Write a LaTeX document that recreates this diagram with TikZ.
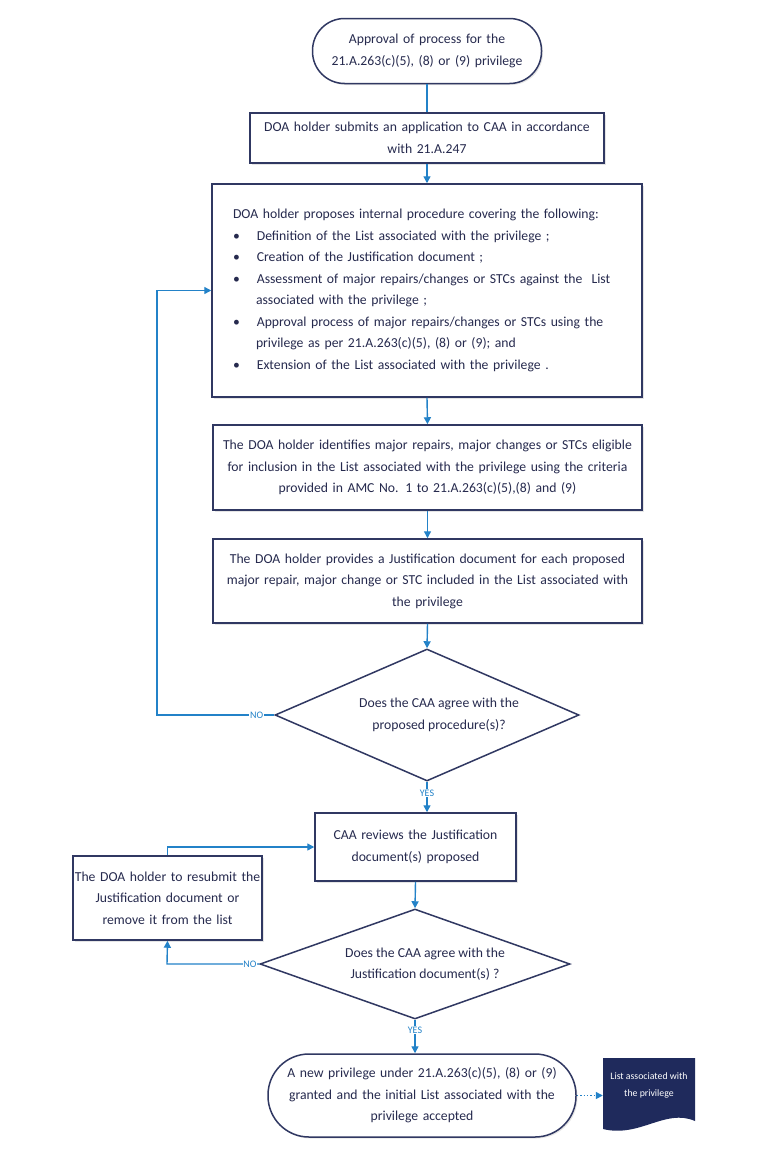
\documentclass[tikz,border=0pt]{standalone}
\usepackage{fontspec}
\setmainfont{Carlito}
\usetikzlibrary{arrows.meta,shapes.geometric,shadows,calc}
\definecolor{edgec}{RGB}{48,56,98}
\definecolor{flowc}{RGB}{35,130,200}
\definecolor{txtc}{RGB}{38,42,78}
\definecolor{docc}{RGB}{31,42,92}
\newcommand\fsz{\fontsize{13.7}{21.5}\selectfont}
\newcommand\lsz{\fontsize{10}{11}\selectfont}
\newcommand\dsz{\fontsize{9.8}{17}\selectfont}
\tikzset{
  box/.style={draw=edgec, line width=1.5pt, fill=white, text=txtc, align=center,
    inner sep=0pt, font=\fsz,
    drop shadow={shadow xshift=1.5pt, shadow yshift=-1.5pt, opacity=0.2}},
  term/.style={box},
  dec/.style={diamond, draw=edgec, line width=1.5pt, fill=white, inner sep=0pt},
  dtext/.style={font=\fsz, text=txtc, align=center},
  flow/.style={draw=flowc, line width=1.4pt, -{Triangle[width=7pt,length=7pt]}},
  plain/.style={draw=flowc, line width=1.4pt},
  lab/.style={text=flowc, font=\lsz, fill=white, inner sep=0.8pt},
  doctext/.style={text=white, font=\dsz, align=center, inner sep=0pt}
}
\begin{document}
\begin{tikzpicture}[x=1pt,y=-1pt]
\useasboundingbox[fill=white] (0,0) rectangle (769,1159);

\node[term, rounded corners=32pt, minimum width=229pt, minimum height=65pt, text width=220pt]
  (start) at (427,51) {Approval of process for the\\21.A.263(c)(5), (8) or (9) privilege};

\node[box, minimum width=354pt, minimum height=50pt, text width=345pt]
  (b2) at (427,138) {DOA holder submits an application to CAA in accordance\\with 21.A.247};

\node[box, minimum width=430pt, minimum height=213pt, text width=388pt, align=left]
  (b3) at (427,290.5) {%
  DOA holder proposes internal procedure covering the following:%
  \begin{list}{\textbullet}{\setlength\leftmargin{23pt}\setlength\labelwidth{6pt}%
    \setlength\labelsep{17pt}\setlength\itemsep{0pt}\setlength\parsep{0pt}%
    \setlength\topsep{0pt}\setlength\partopsep{0pt}}
  \item Definition of the List associated with the privilege ;
  \item Creation of the Justification document ;
  \item Assessment of major repairs/changes or STCs against the\ \ List associated with the privilege ;
  \item Approval process of major repairs/changes or STCs using the privilege as per 21.A.263(c)(5), (8) or (9); and
  \item Extension of the List associated with the privilege .
  \end{list}};

\node[box, minimum width=429pt, minimum height=85pt, text width=424pt]
  (b4) at (427.5,467.5) {The DOA holder identifies major repairs, major changes or STCs eligible\\
  for inclusion in the List associated with the privilege using the criteria\\
  provided in AMC No. 1 to 21.A.263(c)(5),(8) and (9)};

\node[box, minimum width=429pt, minimum height=84pt, text width=424pt]
  (b5) at (427.5,581) {The DOA holder provides a Justification document for each proposed\\
  major repair, major change or STC included in the List associated with\\
  the privilege};

\node[dec, minimum width=304pt, minimum height=132pt,
  label={[dtext, xshift=12pt]center:{Does the CAA agree with the\\proposed procedure(s)?}}]
  (d1) at (427,715) {};

\node[box, minimum width=201pt, minimum height=68pt, text width=195pt]
  (b6) at (415.5,847) {CAA reviews the Justification\\document(s) proposed};

\node[dec, minimum width=310pt, minimum height=110pt,
  label={[dtext, xshift=10pt]center:{Does the CAA agree with the\\Justification document(s) ?}}]
  (d2) at (415,964) {};

\node[box, minimum width=189pt, minimum height=84pt, text width=188pt]
  (b7) at (167.5,898) {The DOA holder to resubmit the\\Justification document or\\remove it from the list};

\node[term, rounded corners=41pt, minimum width=308pt, minimum height=83pt, text width=304pt]
  (end) at (422,1095.5) {A new privilege under 21.A.263(c)(5), (8) or (9)\\
  granted and the initial List associated with the\\privilege accepted};

\fill[docc] (603,1058) -- (695,1058) -- (695,1121)
  .. controls (665,1108) and (640,1138) .. (603,1129) -- cycle;
\node[doctext, minimum width=92pt, minimum height=70pt] (doc) at (649,1085)
  {List associated with\\the privilege};

% connectors
\draw[plain] (start.south) -- (b2.north);
\draw[flow] (b2.south) -- (b3.north);
\draw[flow] (b3.south) -- (b4.north);
\draw[flow] (b4.south) -- (b5.north);
\draw[flow] (b5.south) -- (d1.north);
\coordinate (l1) at (157,715);
\draw[flow] (d1.west) -- node[lab, pos=0.15]{NO} (l1) |- (b3.west);
\draw[flow] (d1.south) -- node[lab, pos=0.37]{YES} (d1.south |- b6.north);
\draw[flow] (b6.south) -- (d2.north);
\coordinate (l2) at (167,964);
\draw[flow] (d2.west) -- node[lab, pos=0.1]{NO} (l2) -- (b7.south);
\draw[flow] (b7.north) |- (b6.west);
\draw[flow] (d2.south) -- node[lab, pos=0.3]{YES} (d2.south |- end.north);
\draw[draw=flowc, line width=1.4pt, dotted, -{Triangle[width=7pt,length=7pt]}]
  (end.east) -- (end.east -| doc.west);
\end{tikzpicture}
\end{document}
